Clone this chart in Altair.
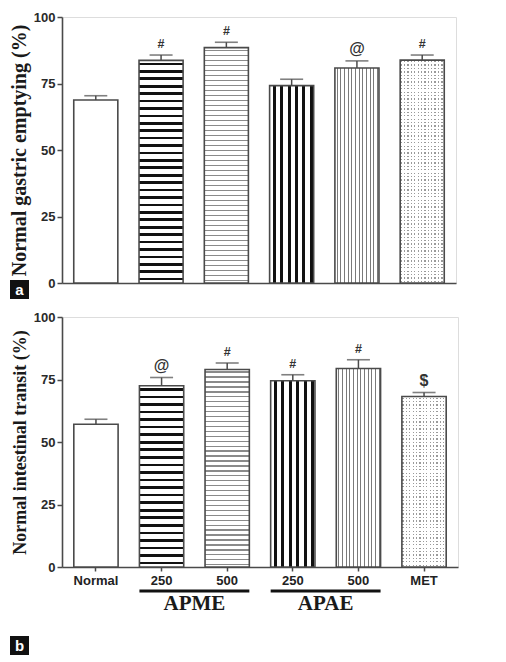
import altair as alt
import pandas as pd

# ---------------- data ----------------
categories = ["Normal", "APME 250", "APME 500", "APAE 250", "APAE 500", "MET"]
tick_labels = ["Normal", "250", "500", "250", "500", "MET"]

gastric_mean = [68.8, 83.7, 88.5, 74.2, 80.8, 83.8]
gastric_err = [1.6, 2.0, 2.0, 2.4, 2.7, 1.9]
gastric_sig = ["", "#", "#", "", "@", "#"]

transit_mean = [57.1, 72.5, 79.0, 74.5, 79.4, 68.2]
transit_err = [2.0, 3.3, 2.6, 2.4, 3.5, 1.6]
transit_sig = ["", "@", "#", "#", "#", "$"]

group_names = ["APME", "APAE"]
group_first = ["APME 250", "APAE 250"]
group_last = ["APME 500", "APAE 500"]

panel_letters = ["a", "b"]
y_ticks = [0, 25, 50, 75, 100]

# ---------------- style ----------------
EDGE = "#4a4a4a"
PAD_IN = 0.325
PAD_OUT = 0.18
SERIF = "Liberation Serif"
SANS = "Liberation Sans"


def stripes(n, color, frac, start=0.0, vertical_lines=False, bg="#ffffff"):
    stops = []
    for k in range(n):
        a = (k + start) / n
        b = (k + start + frac) / n
        stops.append(alt.GradientStop(offset=round(k / n, 5), color=bg))
        stops.append(alt.GradientStop(offset=round(a, 5), color=bg))
        stops.append(alt.GradientStop(offset=round(a, 5), color=color))
        stops.append(alt.GradientStop(offset=round(b, 5), color=color))
        stops.append(alt.GradientStop(offset=round(b, 5), color=bg))
        stops.append(alt.GradientStop(offset=round((k + 1) / n, 5), color=bg))
    if vertical_lines:
        return alt.Gradient(gradient="linear", stops=stops, x1=0, x2=1, y1=0, y2=0)
    return alt.Gradient(gradient="linear", stops=stops, x1=0, x2=0, y1=0, y2=1)


def fills_for(cat, px_height):
    """list of fill layers (gradients / colours) for a category's bar"""
    if cat == "APME 250":
        return [stripes(max(1, round(px_height / 7.5)), "#111111", 0.36, 0.3)]
    if cat == "APME 500":
        return [stripes(max(1, round(px_height / 5.0)), "#8a8a8a", 0.26, 0.4)]
    if cat == "APAE 250":
        return [stripes(6, "#111111", 0.42, 0.45, vertical_lines=True)]
    if cat == "APAE 500":
        return [stripes(12, "#7a7a7a", 0.28, 0.5, vertical_lines=True)]
    if cat == "MET":
        return [
            stripes(max(1, round(px_height / 3.4)), "#9a9a9a", 0.38, 0.3),
            stripes(13, "#ffffff", 0.62, 0.5, vertical_lines=True,
                    bg="rgba(255,255,255,0)"),
        ]
    return ["#ffffff"]


label_expr = (
    "[" + ",".join(f"'{t}'" for t in tick_labels) + "]"
    + "[indexof([" + ",".join(f"'{c}'" for c in categories) + "], datum.value)]"
)

xscale = alt.Scale(domain=categories, paddingInner=PAD_IN, paddingOuter=PAD_OUT)


def panel(means, errs, sigs, title, title_size, width, height, bottom_axis,
          letter, letter_y):
    df = pd.DataFrame({"cat": categories, "mean": means, "err": errs, "sig": sigs})
    df["upper"] = df["mean"] + df["err"]

    if bottom_axis:
        xaxis = alt.Axis(title=None, labelExpr=label_expr, labelAngle=0,
                         labelFont=SANS, labelFontWeight="bold", labelFontSize=13,
                         labelColor="#222", labelPadding=3, tickSize=4,
                         tickColor=EDGE, tickWidth=1.5, domainColor=EDGE,
                         domainWidth=1.6)
    else:
        xaxis = alt.Axis(title=None, labels=False, ticks=False,
                         domainColor=EDGE, domainWidth=1.6)
    X = alt.X("cat:N", scale=xscale, axis=xaxis, sort=categories)
    yscale = alt.Scale(domain=[0, 100], nice=False)
    yaxis = alt.Axis(values=y_ticks, title=title, titleFont=SERIF,
                     titleFontSize=title_size, titleFontWeight="bold",
                     titleColor="#1a1a1a", titlePadding=4,
                     labelFont=SANS, labelFontWeight="bold", labelFontSize=13,
                     labelColor="#2a2a2a", labelPadding=2, tickSize=5,
                     tickColor=EDGE, tickWidth=1.5, domainColor=EDGE,
                     domainWidth=1.6, grid=False)
    Y = alt.Y("mean:Q", scale=yscale, axis=yaxis)

    base = alt.Chart(df)
    layers = []
    for c, m in zip(categories, means):
        px = m / 100.0 * height
        for f in fills_for(c, px):
            layers.append(
                base.mark_bar(fill=f, strokeWidth=0)
                .encode(x=X, y=Y)
                .transform_filter(alt.datum.cat == c)
            )
    layers.append(base.mark_bar(fillOpacity=0, stroke=EDGE, strokeWidth=1.6)
                  .encode(x=X, y=Y))
    layers.append(base.mark_rule(color=EDGE, strokeWidth=1.5)
                  .encode(x=X, y=Y, y2="upper:Q"))
    layers.append(base.mark_tick(color=EDGE, thickness=1.6, size=23,
                                 orient="horizontal")
                  .encode(x=X, y=alt.Y("upper:Q", scale=yscale, axis=yaxis)))
    layers.append(base.mark_text(baseline="bottom", dy=-4, font=SANS,
                                 fontWeight="bold", color="#333")
                  .encode(x=X, y=alt.Y("upper:Q", scale=yscale, axis=yaxis),
                          text="sig:N",
                          size=alt.condition(alt.datum.sig == "#",
                                             alt.value(12.5), alt.value(16))))

    if bottom_axis:
        gdf = pd.DataFrame({"name": group_names, "first": group_first,
                            "last": group_last})
        gbase = alt.Chart(gdf)
        layers.append(
            gbase.mark_rule(color="#111111", strokeWidth=2.8)
            .encode(x=alt.X("first:N", scale=xscale, axis=xaxis, bandPosition=0),
                    x2=alt.X2("last:N", bandPosition=1),
                    y=alt.value(height + 24))
        )
        step = width / (len(categories) - PAD_IN + 2 * PAD_OUT)
        layers.append(
            gbase.mark_text(font=SERIF, fontWeight="bold", fontSize=21,
                            color="#1a1a1a", baseline="middle",
                            dx=0.5 * step * PAD_IN)
            .encode(x=alt.X("first:N", scale=xscale, axis=xaxis,
                            bandPosition=1),
                    y=alt.value(height + 37), text="name:N")
        )

    ldf = pd.DataFrame({"letter": [letter]})
    lbase = alt.Chart(ldf)
    layers.append(lbase.mark_rect(color="#111111").encode(
        x=alt.value(-52), x2=alt.value(-33),
        y=alt.value(letter_y), y2=alt.value(letter_y + 19)))
    layers.append(lbase.mark_text(color="#ffffff", font=SANS, fontWeight="bold",
                                  fontSize=15, baseline="middle", align="center")
                  .encode(x=alt.value(-42.5), y=alt.value(letter_y + 9.5),
                          text="letter:N"))

    return alt.layer(*layers).properties(width=width, height=height)


top = panel(gastric_mean, gastric_err, gastric_sig,
            "Normal gastric emptying (%)", 20, 394, 266, False,
            panel_letters[0], 263)
bottom = panel(transit_mean, transit_err, transit_sig,
               "Normal intestinal transit (%)", 18, 396, 250, True,
               panel_letters[1], 319)

chart = (
    alt.vconcat(top, bottom, spacing=10)
    .properties(padding={"left": 0, "top": 2, "right": 5, "bottom": 0})
    .configure_view(stroke=None)
    .configure(background="#ffffff")
)

chart.save("out.html", embed_options={"renderer": "svg", "actions": False})
